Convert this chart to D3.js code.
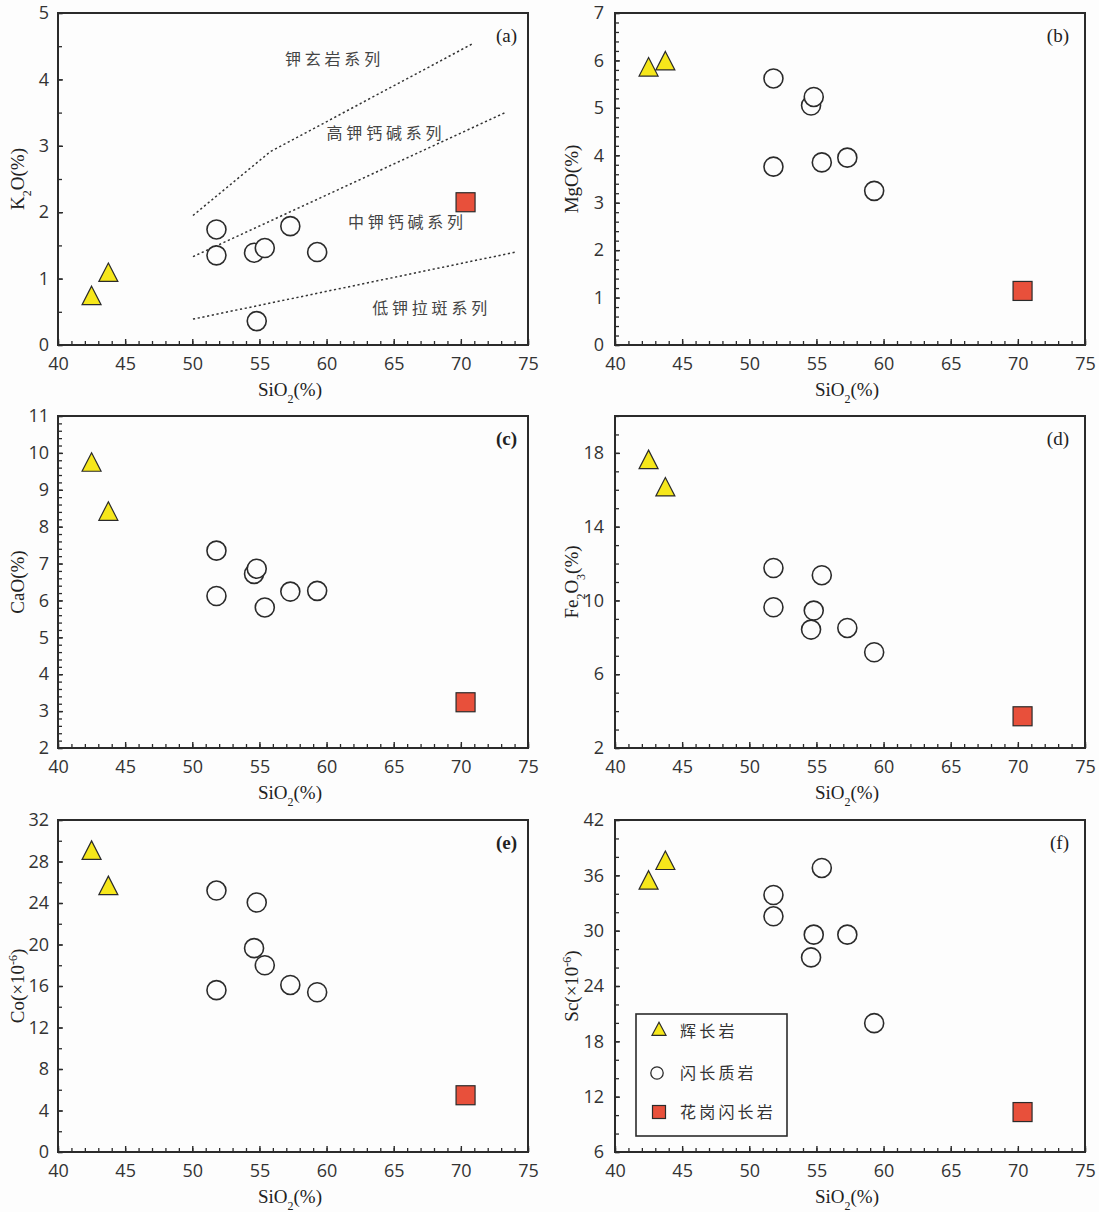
<!DOCTYPE html>
<html><head><meta charset="utf-8">
<script src="https://cdn.jsdelivr.net/npm/d3@7"></script>
<style>body{margin:0;background:#fdfdfd} svg{display:block}</style>
</head><body>
<script>
// ---------------- DATA ----------------
const categories = ["辉长岩", "闪长质岩", "花岗闪长岩"];
const xTicks = [40, 45, 50, 55, 60, 65, 70, 75];

// SiO2 (%) of each sample
const sio2Gabbro = [42.5, 43.75];
const sio2Diorite = [51.8, 51.8, 54.6, 54.8, 55.4, 57.3, 59.3];
const sio2Granodiorite = [70.35];

// K2O (%)
const k2oGabbro = [0.70, 1.05];
const k2oDiorite = [1.74, 1.35, 1.39, 0.36, 1.46, 1.79, 1.40];
const k2oGranodiorite = [2.15];
// MgO (%)
const mgoGabbro = [5.80, 5.93];
const mgoDiorite = [5.62, 3.76, 5.05, 5.23, 3.85, 3.95, 3.25];
const mgoGranodiorite = [1.14];
// CaO (%)
const caoGabbro = [9.67, 8.34];
const caoDiorite = [7.35, 6.12, 6.72, 6.86, 5.81, 6.24, 6.26];
const caoGranodiorite = [3.24];
// Fe2O3 (%)
const fe2o3Gabbro = [17.48, 16.0];
const fe2o3Diorite = [11.76, 9.63, 8.42, 9.45, 11.37, 8.51, 7.19];
const fe2o3Granodiorite = [3.72];
// Co (x10^-6)
const coGabbro = [28.8, 25.4];
const coDiorite = [25.2, 15.6, 19.65, 24.05, 18.0, 16.1, 15.4];
const coGranodiorite = [5.47];
// Sc (x10^-6)
const scGabbro = [35.17, 37.3];
const scDiorite = [33.87, 31.56, 27.1, 29.57, 36.8, 29.57, 19.97];
const scGranodiorite = [10.33];

// Peccerillo & Taylor boundaries (panel a)
const shoshoniteLine = [[50.05, 1.95], [55.8, 2.91], [70.9, 4.54]];
const highKLine = [[50.05, 1.33], [73.3, 3.50]];
const lowKLine = [[50.05, 0.39], [74.1, 1.40]];
const seriesLabels = ["钾玄岩系列", "高钾钙碱系列", "中钾钙碱系列", "低钾拉斑系列"];
const seriesLabelPos = [[56.9, 4.30], [60.0, 3.19], [61.6, 1.85], [63.4, 0.55]];

// ---------------- LAYOUT ----------------
const W = 1099, H = 1212;
const colX = [58, 615], rowY = [13, 416, 820], PW = 470, PH = 332;
const tickFont = "'Open Sans', 'DejaVu Sans', sans-serif";
const serif = "'Liberation Serif', 'Times New Roman', serif";
const cjk = "'Noto Sans CJK SC', sans-serif";
const yellow = "#f6e71b", red = "#e8503b", ink = "#2b2b2b", bg = "#fdfdfd";

const svg = d3.select("body").append("svg").attr("width", W).attr("height", H);
svg.append("rect").attr("width", W).attr("height", H).attr("fill", bg);

const rng = (lo, hi, step) => d3.range(0, Math.floor((hi - lo) / step + 1e-6) + 1).map(i => +(lo + i * step).toFixed(4));

const panels = [
  {id: "(a)", col: 0, row: 0, dom: [0, 5], major: 1, minor: 0.5, y: [k2oGabbro, k2oDiorite, k2oGranodiorite],
   title: [["K", null], ["2", "sub"], ["O(%)", null]]},
  {id: "(b)", col: 1, row: 0, dom: [0, 7], major: 1, minor: 0.2, y: [mgoGabbro, mgoDiorite, mgoGranodiorite],
   title: [["MgO(%)", null]]},
  {id: "(c)", col: 0, row: 1, dom: [2, 11], major: 1, minor: 0.2, y: [caoGabbro, caoDiorite, caoGranodiorite],
   title: [["CaO(%)", null]], bold: true},
  {id: "(d)", col: 1, row: 1, dom: [2, 20], major: 4, minor: 1, y: [fe2o3Gabbro, fe2o3Diorite, fe2o3Granodiorite],
   title: [["Fe", null], ["2", "sub"], ["O", null], ["3", "sub"], ["(%)", null]]},
  {id: "(e)", col: 0, row: 2, dom: [0, 32], major: 4, minor: 2, y: [coGabbro, coDiorite, coGranodiorite],
   title: [["Co(×10", null], ["-6", "super"], [")", null]], bold: true},
  {id: "(f)", col: 1, row: 2, dom: [6, 42], major: 6, minor: 2, y: [scGabbro, scDiorite, scGranodiorite],
   title: [["Sc(×10", null], ["-6", "super"], [")", null]]}
];
const xs = [sio2Gabbro, sio2Diorite, sio2Granodiorite];

function triPath(w, h) {
  return `M0,${-2 * h / 3}L${w / 2},${h / 3}L${-w / 2},${h / 3}Z`;
}
function drawMarker(sel, type, big) {
  if (type === 0) {
    sel.append("path").attr("d", big ? triPath(19, 18.5) : triPath(14, 13))
      .attr("fill", yellow).attr("stroke", ink).attr("stroke-width", 1.2).attr("stroke-linejoin", "miter");
  } else if (type === 1) {
    sel.append("circle").attr("r", big ? 9.5 : 6.2).attr("fill", bg).attr("stroke", ink).attr("stroke-width", big ? 1.6 : 1.3);
  } else {
    const s = big ? 19 : 13;
    sel.append("rect").attr("x", -s / 2).attr("y", -s / 2).attr("width", s).attr("height", s)
      .attr("fill", red).attr("stroke", ink).attr("stroke-width", 1.2);
  }
}

panels.forEach(p => {
  const x0 = colX[p.col], y0 = rowY[p.row];
  const g = svg.append("g").attr("transform", `translate(${x0},${y0})`);
  const x = d3.scaleLinear().domain([40, 75]).range([0, PW]);
  const y = d3.scaleLinear().domain(p.dom).range([PH, 0]);

  // minor ticks
  const minorX = d3.axisBottom(x).tickValues(rng(40, 75, 1)).tickSize(-4).tickFormat("");
  const minorY = d3.axisLeft(y).tickValues(rng(p.dom[0], p.dom[1], p.minor)).tickSize(-4).tickFormat("");
  [g.append("g").attr("transform", `translate(0,${PH})`).call(minorX),
   g.append("g").call(minorY)].forEach(a => {
    a.select(".domain").remove();
    a.selectAll("line").attr("stroke", ink).attr("stroke-width", 1.3);
  });

  // major ticks + labels
  const padY = p.col === 0 ? 9 : 11;
  const xAxis = d3.axisBottom(x).tickValues(xTicks).tickSize(-6).tickPadding(12).tickFormat(d3.format("d"));
  const yAxis = d3.axisLeft(y).tickValues(rng(p.dom[0], p.dom[1], p.major)).tickSize(-5).tickPadding(padY).tickFormat(d3.format("d"));
  [g.append("g").attr("transform", `translate(0,${PH})`).call(xAxis),
   g.append("g").call(yAxis)].forEach(a => {
    a.select(".domain").remove();
    a.selectAll("line").attr("stroke", ink).attr("stroke-width", 1.4);
    a.selectAll("text").attr("font-family", tickFont).attr("font-size", 18).attr("fill", "#333");
  });

  // frame
  g.append("rect").attr("width", PW).attr("height", PH).attr("fill", "none").attr("stroke", ink).attr("stroke-width", 2);

  // panel letter
  g.append("text").attr("x", PW - (p.col === 0 ? 11 : 16)).attr("y", 29).attr("text-anchor", "end")
    .attr("font-family", serif).attr("font-size", 19).attr("font-weight", p.bold ? "bold" : "normal")
    .attr("fill", "#222").text(p.id);

  // x title
  const xt = g.append("text").attr("x", PW / 2 - 3).attr("y", PH + 51).attr("text-anchor", "middle")
    .attr("font-family", serif).attr("font-size", 19).attr("fill", "#222");
  xt.append("tspan").text("SiO");
  xt.append("tspan").attr("baseline-shift", "sub").attr("font-size", 12).text("2");
  xt.append("tspan").text("(%)");

  // y title
  const yt = g.append("text")
    .attr("transform", `translate(${p.col === 0 ? -34 : -37},${PH / 2}) rotate(-90)`)
    .attr("text-anchor", "middle").attr("font-family", serif).attr("font-size", 19).attr("fill", "#222");
  p.title.forEach(([t, shift]) => {
    const ts = yt.append("tspan").text(t);
    if (shift) ts.attr("baseline-shift", shift).attr("font-size", 12);
  });

  // boundary lines and labels (panel a)
  if (p.id === "(a)") {
    const line = d3.line().x(d => x(d[0])).y(d => y(d[1]));
    [shoshoniteLine, highKLine, lowKLine].forEach(l => {
      g.append("path").attr("d", line(l)).attr("fill", "none").attr("stroke", "#333")
        .attr("stroke-width", 1.5).attr("stroke-dasharray", "2.2,2.6");
    });
    seriesLabels.forEach((t, i) => {
      g.append("text").attr("x", x(seriesLabelPos[i][0])).attr("y", y(seriesLabelPos[i][1]))
        .attr("dy", "0.36em").attr("font-family", cjk).attr("font-size", 16)
        .attr("letter-spacing", 3.8).attr("fill", "#444").text(t);
    });
  }

  // points: circles, then triangles, then square
  [1, 0, 2].forEach(k => {
    p.y[k].forEach((v, i) => {
      const m = g.append("g").attr("transform", `translate(${x(xs[k][i])},${y(v)})`);
      drawMarker(m, k, true);
    });
  });
});

// legend (inside panel f)
const lg = svg.append("g");
lg.append("rect").attr("x", 636).attr("y", 1014).attr("width", 151).attr("height", 122)
  .attr("fill", bg).attr("stroke", ink).attr("stroke-width", 1.6);
const legY = [1031, 1073, 1112];
categories.forEach((c, i) => {
  const m = lg.append("g").attr("transform", `translate(${i === 1 ? 657 : 659},${legY[i]})`);
  drawMarker(m, i, false);
  lg.append("text").attr("x", 680).attr("y", legY[i]).attr("dy", "0.36em")
    .attr("font-family", cjk).attr("font-size", 16).attr("letter-spacing", 3.2)
    .attr("fill", "#333").text(c);
});
</script>
</body></html>
